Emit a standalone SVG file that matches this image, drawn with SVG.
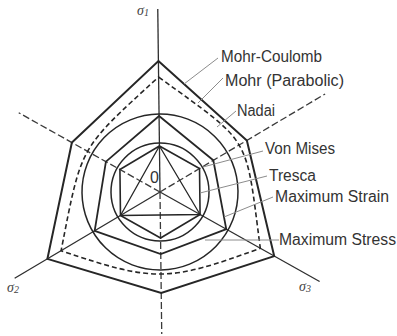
<svg xmlns="http://www.w3.org/2000/svg" width="397" height="336" viewBox="0 0 397 336">
<style>
.s{fill:none;stroke:#262626;stroke-linejoin:miter}
.ax{stroke:#2e2e2e;stroke-width:1.3;fill:none}
.neg{stroke:#3a3a3a;stroke-width:1.3;fill:none;stroke-dasharray:7 3}
.ld{stroke:#8c8c8c;stroke-width:1;fill:none}
.lbl{font-family:"Liberation Sans",Arial,sans-serif;font-size:16px;fill:#333}
.sig{font-family:"Liberation Serif","Times New Roman",serif;font-style:italic;font-size:14px;fill:#444}
</style>
<rect width="397" height="336" fill="#ffffff"/>
<g transform="rotate(-0.7 160 192)">
  <g id="axes">
    <line class="ax" x1="160" y1="192" x2="160" y2="9"/>
    <line class="ax" x1="160" y1="192" x2="13.6" y2="276.5"/>
    <line class="ax" x1="160" y1="192" x2="318.5" y2="283.5"/>
    <line class="neg" x1="160" y1="192" x2="160" y2="334"/>
    <line class="neg" x1="160" y1="192" x2="326.3" y2="96"/>
    <line class="neg" x1="160" y1="192" x2="19.7" y2="111"/>
  </g>
  <g id="mohr-coulomb">
    <polygon class="s" stroke-width="2" points="160,61 247.5,141.5 273.4,257.5 160,293 46.6,257.5 72.5,141.5"/>
  </g>
  <g id="mohr-parabolic">
    <path class="s" stroke-width="1.6" stroke-dasharray="5 3" d="M160,77 C253.3,146.7 245.9,133.8 259.6,249.5 C166.6,282.2 153.4,282.2 60.4,249.5 C82.5,143.3 79.1,149.2 160,77 Z"/>
  </g>
  <g id="nadai">
    <circle class="s" stroke-width="1.5" cx="160" cy="192" r="78"/>
  </g>
  <g id="maximum-strain">
    <polygon class="s" stroke-width="1.8" points="160,116 213.7,161 225.8,230 160,254 94.2,230 106.3,161"/>
  </g>
  <g id="von-mises">
    <circle class="s" stroke-width="1.5" cx="160" cy="192" r="49"/>
  </g>
  <g id="tresca">
    <polygon class="s" stroke-width="1.6" points="160,146 199.8,169 199.8,215 160,238 120.2,215 120.2,169"/>
  </g>
  <g id="maximum-stress">
    <polygon class="s" stroke-width="1.3" points="160,146 199.8,215 120.2,215"/>
  </g>
</g>
<g id="connectors">
  <line class="ld" x1="218" y1="58" x2="184" y2="84"/>
  <line class="ld" x1="223" y1="78" x2="198" y2="103"/>
  <line class="ld" x1="236" y1="111" x2="217" y2="127"/>
  <line class="ld" x1="263" y1="151" x2="203" y2="167"/>
  <line class="ld" x1="267" y1="176" x2="200" y2="193"/>
  <line class="ld" x1="273" y1="197" x2="224" y2="217"/>
  <line class="ld" x1="279" y1="240" x2="205" y2="240"/>
</g>
<g id="labels">
  <text class="lbl" x="221" y="62" textLength="101" lengthAdjust="spacingAndGlyphs">Mohr-Coulomb</text>
  <text class="lbl" x="225" y="86" textLength="119" lengthAdjust="spacingAndGlyphs">Mohr (Parabolic)</text>
  <text class="lbl" x="237" y="116" textLength="38" lengthAdjust="spacingAndGlyphs">Nadai</text>
  <text class="lbl" x="265" y="154" textLength="70" lengthAdjust="spacingAndGlyphs">Von Mises</text>
  <text class="lbl" x="269" y="181" textLength="47" lengthAdjust="spacingAndGlyphs">Tresca</text>
  <text class="lbl" x="275" y="202" textLength="114" lengthAdjust="spacingAndGlyphs">Maximum Strain</text>
  <text class="lbl" x="279" y="245" textLength="117" lengthAdjust="spacingAndGlyphs">Maximum Stress</text>
  <text class="lbl" x="150" y="183" font-size="14">0</text>
  <text class="sig" x="137" y="15">σ<tspan font-size="10" dy="1">1</tspan></text>
  <text class="sig" x="7" y="292">σ<tspan font-size="10" dy="1">2</tspan></text>
  <text class="sig" x="299" y="291">σ<tspan font-size="10" dy="1">3</tspan></text>
</g>
</svg>
